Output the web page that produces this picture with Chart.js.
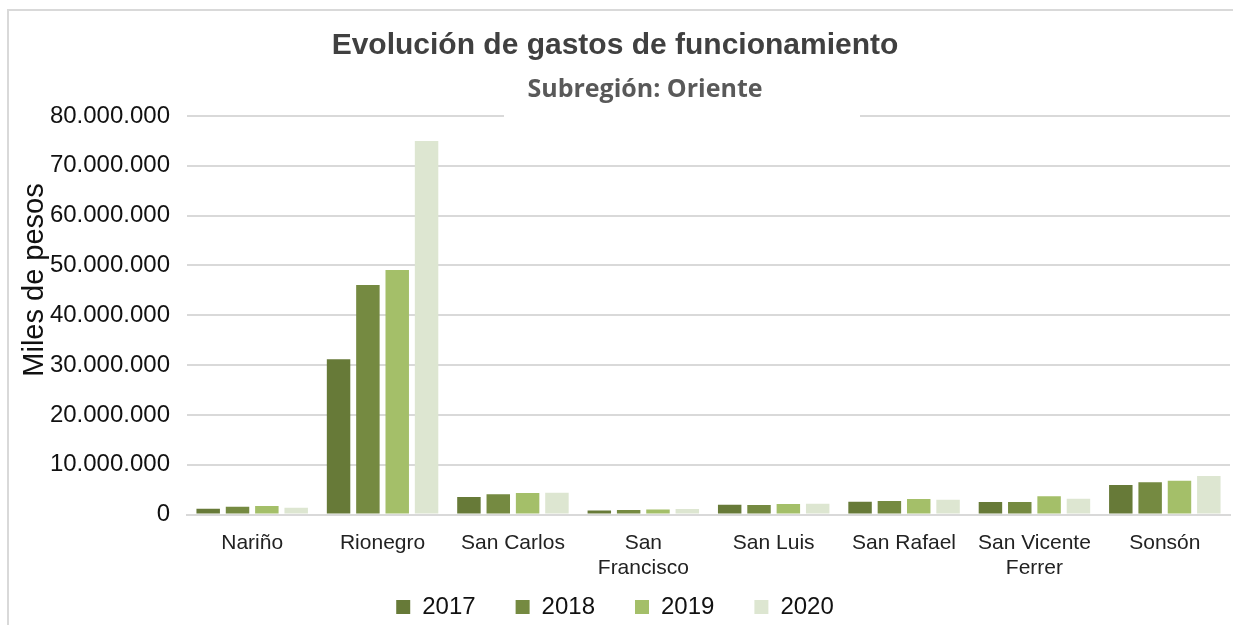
<!DOCTYPE html>
<html>
<head>
<meta charset="utf-8">
<script src="https://cdn.jsdelivr.net/npm/chart.js@4/dist/chart.umd.min.js"></script>
<style>
  html, body { margin: 0; padding: 0; background: #fff; }
  #wrap { width: 1233px; height: 625px; }
</style>
</head>
<body>
<div id="wrap"><canvas id="barChart"></canvas></div>
<script>
const municipios = ['Nariño', 'Rionegro', 'San Carlos', ['San', 'Francisco'], 'San Luis', 'San Rafael', ['San Vicente', 'Ferrer'], 'Sonsón'];
const anios = ['2017', '2018', '2019', '2020'];
const gastos2017 = [1150000, 31200000, 3550000, 800000, 2000000, 2600000, 2550000, 5950000];
const gastos2018 = [1600000, 46100000, 4100000, 930000, 1950000, 2750000, 2550000, 6500000];
const gastos2019 = [1750000, 49100000, 4350000, 1000000, 2150000, 3150000, 3700000, 6770000];
const gastos2020 = [1350000, 75000000, 4400000, 1130000, 2200000, 3000000, 3200000, 7770000];
const colores = ['#677a38', '#758a41', '#a4bf69', '#dde6d1'];

const series = [gastos2017, gastos2018, gastos2019, gastos2020];

// frame, subtitle box and the rotated axis title
const extras = {
  id: 'extras',
  afterLayout(chart) {
    // x labels overlap the empty top of the legend box, don't clip them
    chart.scales.x.bottom = chart.height;
  },
  beforeDraw(chart) {
    const ctx = chart.ctx;
    ctx.save();
    ctx.fillStyle = '#fff';
    ctx.fillRect(0, 0, chart.width, chart.height);
    ctx.strokeStyle = '#d9d9d9';
    ctx.lineWidth = 2;
    ctx.beginPath();
    ctx.moveTo(8, chart.height);
    ctx.lineTo(8, 10);
    ctx.lineTo(chart.width, 10);
    ctx.stroke();
    ctx.restore();
  },
  afterDraw(chart) {
    const ctx = chart.ctx;
    ctx.save();
    ctx.fillStyle = '#fff';
    ctx.fillRect(504, 100, 356, 28);
    ctx.fillStyle = '#595959';
    ctx.font = 'bold 25px "Open Sans"';
    ctx.textAlign = 'center';
    ctx.textBaseline = 'middle';
    ctx.fillText('Subregión: Oriente', 645, 90);

    ctx.translate(35, 280);
    ctx.rotate(-Math.PI / 2);
    ctx.fillStyle = '#111';
    ctx.font = '29px "Liberation Sans"';
    ctx.fillText('Miles de pesos', 0, 0);
    ctx.restore();
  }
};

new Chart(document.getElementById('barChart').getContext('2d'), {
  type: 'bar',
  data: {
    labels: municipios,
    datasets: anios.map((a, i) => ({
      label: a,
      data: series[i],
      backgroundColor: colores[i],
      categoryPercentage: 0.9,
      barPercentage: 0.8
    }))
  },
  options: {
    responsive: true,
    maintainAspectRatio: false,
    animation: false,
    layout: { padding: { left: 0, right: 3, top: 0, bottom: -4 } },
    plugins: {
      title: {
        display: true,
        text: 'Evolución de gastos de funcionamiento',
        color: '#404040',
        font: { family: 'Liberation Sans', size: 30, weight: 'bold' },
        padding: { top: 28, bottom: 52 }
      },
      legend: {
        position: 'bottom',
        labels: {
          color: '#111',
          font: { family: 'Liberation Sans', size: 24 },
          boxWidth: 14,
          boxHeight: 14,
          padding: 40
        }
      },
      tooltip: { enabled: false }
    },
    scales: {
      x: {
        grid: { display: false },
        border: { color: '#d9d9d9', width: 2 },
        afterFit(scale) { scale.height -= 34; },
        ticks: {
          color: '#222',
          font: { family: 'Liberation Sans', size: 21 },
          maxRotation: 0,
          padding: 8
        }
      },
      y: {
        min: 0,
        max: 80000000,
        afterFit(scale) { scale.width = 187; },
        grid: { color: '#d9d9d9', lineWidth: 2, drawTicks: false },
        border: { display: false },
        ticks: {
          stepSize: 10000000,
          color: '#111',
          padding: 17,
          font: { family: 'Liberation Sans', size: 24 },
          callback: v => String(v).replace(/\B(?=(\d{3})+(?!\d))/g, '.')
        }
      }
    }
  },
  plugins: [extras]
});
</script>
</body>
</html>
